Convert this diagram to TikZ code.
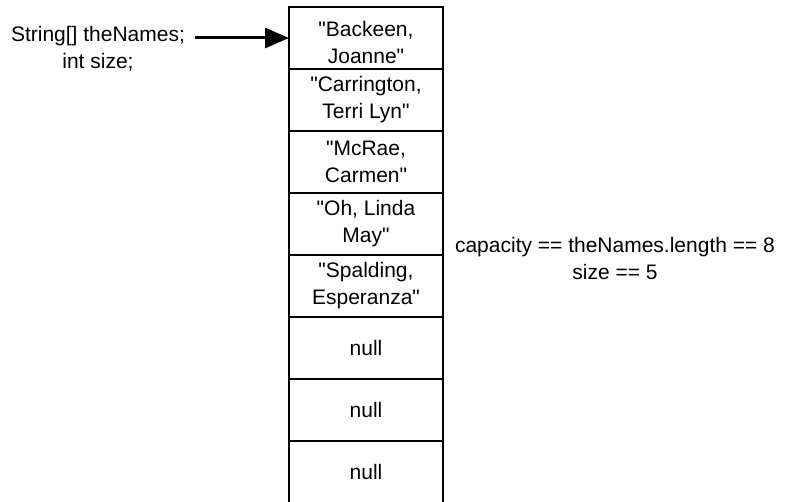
\documentclass[tikz,border=0pt]{standalone}
\usepackage{fontspec}
\setmainfont{Liberation Sans}
\usetikzlibrary{arrows.meta}
\begin{document}
\begin{tikzpicture}[x=1pt,y=-1pt,
  every node/.style={font=\fontsize{21}{27}\selectfont, inner sep=0pt, align=center},
  cell/.style={draw, line width=1.5pt, minimum width=154pt, minimum height=62pt, outer sep=0pt},
  pointer/.style={line width=3pt, -{Triangle[length=24pt,width=20pt]}}]
  \useasboundingbox (0,0) rectangle (790,502);
  % array cells, top to bottom
  \node[cell] (c1) at (366,38)  {};
  \node (c1text) at (366,42) {\textquotedbl Backeen,\\Joanne\textquotedbl};
  \node[cell] (c2) at (366,100) {\textquotedbl Carrington,\\Terri Lyn\textquotedbl};
  \node[cell] (c3) at (366,162) {\textquotedbl McRae,\\Carmen\textquotedbl};
  \node[cell] (c4) at (366,224) {\textquotedbl Oh, Linda\\May\textquotedbl};
  \node[cell] (c5) at (366,286) {\textquotedbl Spalding,\\Esperanza\textquotedbl};
  \node[cell] (c6) at (366,348) {null};
  \node[cell] (c7) at (366,410) {null};
  \node[cell] (c8) at (366,472) {null};
  % declarations and the reference arrow
  \node (decl) at (98,49) {String[] theNames;\\int size;};
  \coordinate (src) at (195,38);
  \draw[pointer] (src) -- (c1.west);
  % capacity note
  \node (cap) at (615,258) {capacity == theNames.length == 8\\size == 5};
\end{tikzpicture}
\end{document}
